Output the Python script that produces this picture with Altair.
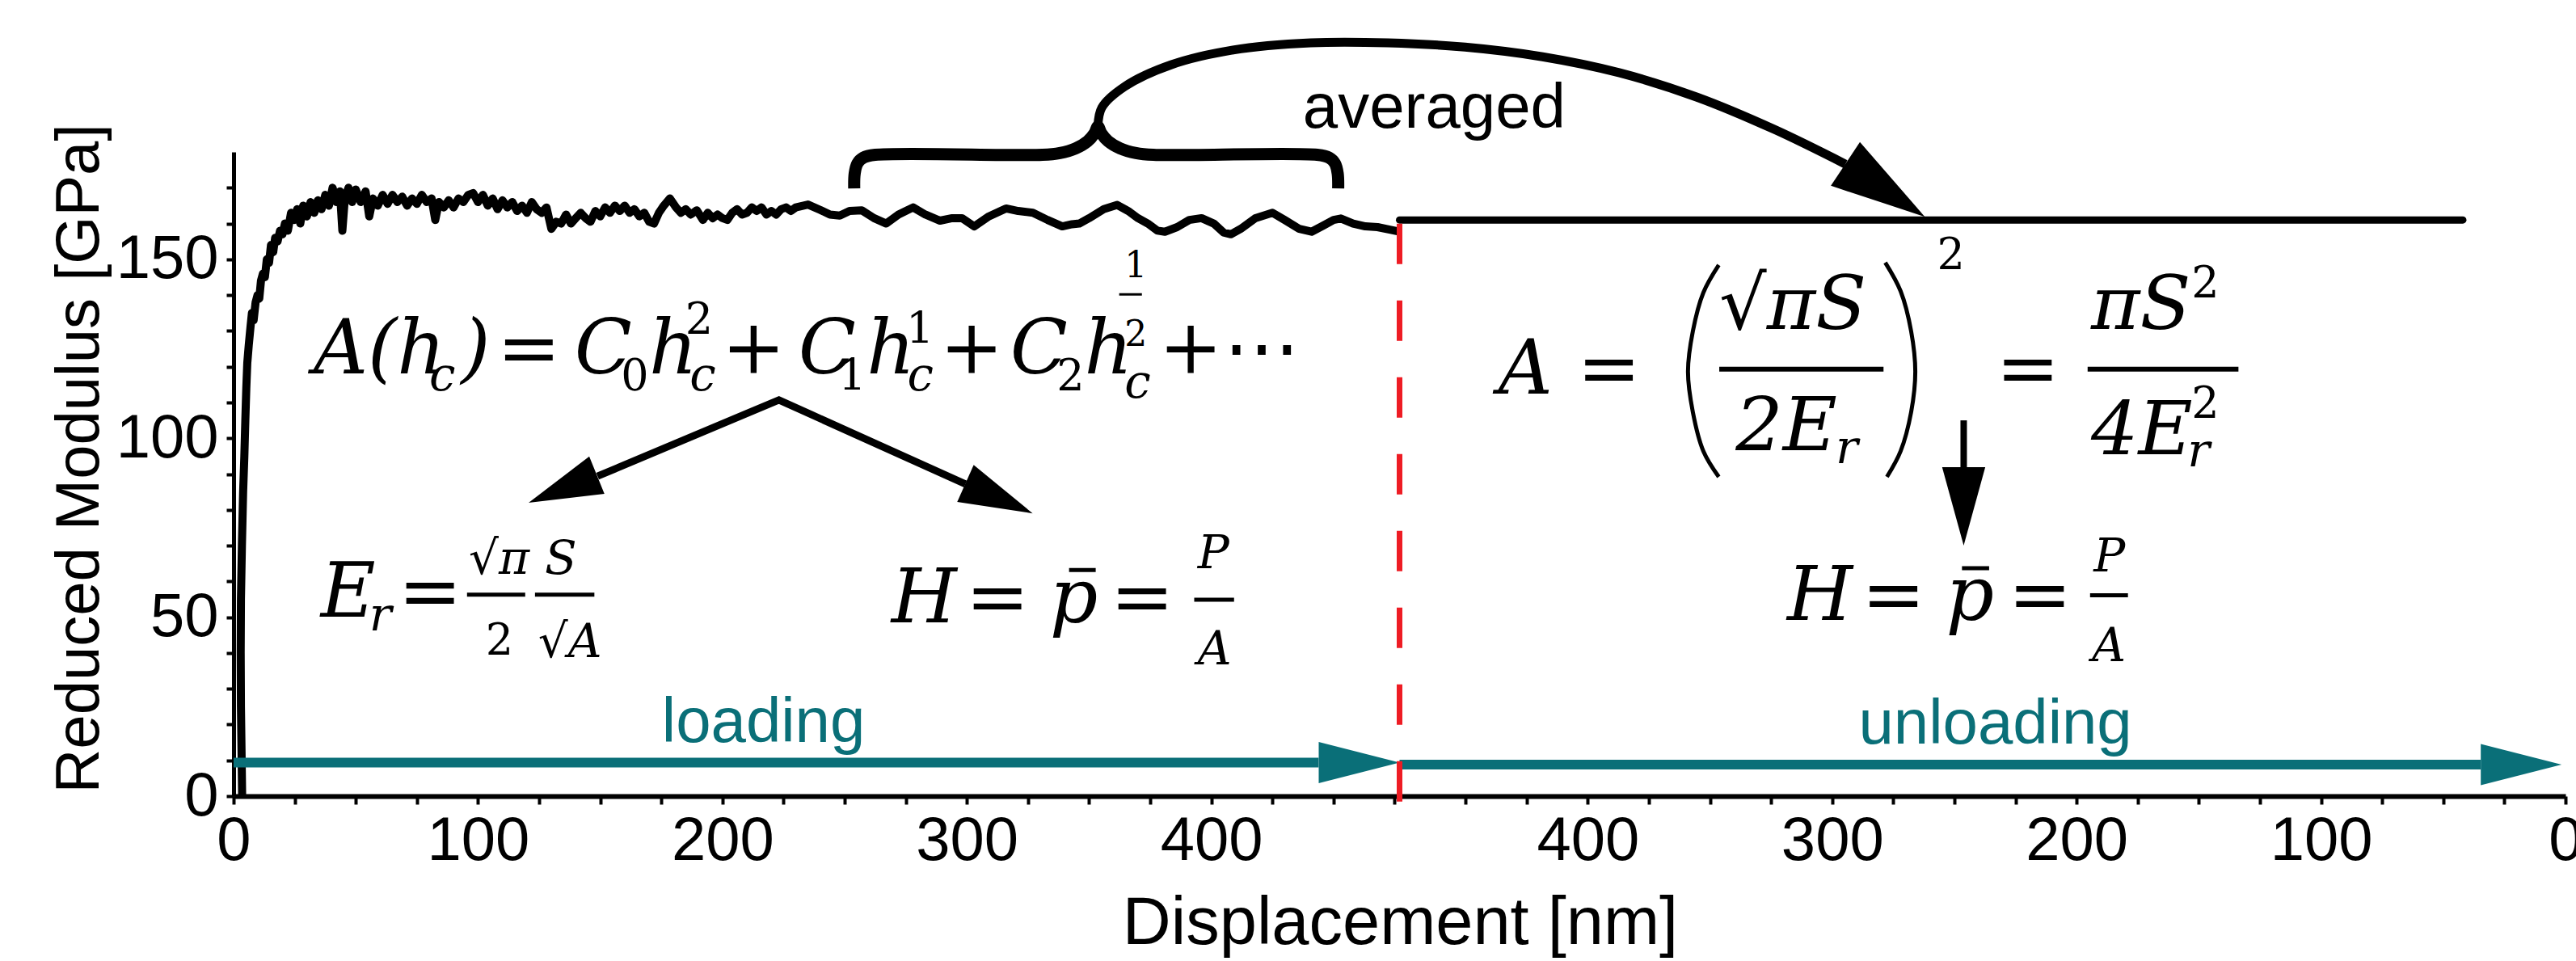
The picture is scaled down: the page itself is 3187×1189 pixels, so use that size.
import altair as alt
import pandas as pd

# ---------------- data ----------------
MAX_DEPTH = 477                 # nm, turning point loading -> unloading
PATH_END = 2 * MAX_DEPTH        # x runs 0..477 (loading) then back 477..0 (unloading)

disp_load = [3.5, 3.3, 3.0, 2.9, 3.0, 3.4, 3.9, 4.4, 4.8, 5.2, 5.6, 6.2, 6.9, 7.5, 8.2, 9.0, 9.8, 10.5,
             11.2, 12.0, 12.8, 13.6, 14.5, 15.3, 16.2, 17.0, 18.0, 19.0, 20.0, 21.0, 22.2, 23.5, 24.8,
             26.0, 27.3, 28.5, 30.0, 31.5, 33.0, 34.5, 36.0, 37.5, 39.0, 40.5, 42.0, 43.5, 44.5, 45.5,
             47.0, 48.5, 50.0, 52.0, 54.0, 55.5, 57.0, 59.0, 61.0, 63.0, 65.0, 67.0, 69.0, 71.0, 73.0,
             75.0, 77.0, 79.0, 81.0, 82.5, 84.0, 86.0, 88.0, 90.0, 92.0, 94.0, 96.0, 98.0, 100.0,
             102.0, 104.0, 106.0, 108.0, 110.0, 112.0, 114.0, 116.0, 118.0, 120.0, 122.0, 124.0, 126.0,
             128.0, 130.0, 132.0, 134.0, 136.0, 138.0, 140.0, 142.0, 144.0, 146.0, 148.0, 150.0, 152.0,
             154.0, 156.0, 158.0, 160.0, 162.0, 164.0, 166.0, 168.0, 170.0, 172.0, 174.0, 176.0, 178.5,
             181.0, 183.0, 185.0, 187.0, 189.5, 192.0, 194.0, 196.0, 198.0, 200.0, 202.0, 204.0, 206.0,
             208.0, 210.0, 212.0, 214.0, 216.0, 218.0, 220.0, 222.0, 224.0, 226.0, 228.0, 230.0, 235.0,
             240.0, 244.0, 248.0, 252.0, 257.0, 262.0, 267.0, 272.0, 278.0, 283.0, 289.0, 294.0, 298.0,
             303.0, 309.0, 316.0, 321.0, 327.0, 333.0, 339.0, 343.0, 346.0, 350.0, 356.0, 361.5, 366.0,
             370.0, 374.0, 378.0, 381.0, 386.0, 391.0, 396.0, 401.0, 405.0, 408.0, 412.0, 418.0, 425.0,
             430.0, 436.0, 441.0, 446.0, 450.0, 453.0, 458.0, 463.0, 468.0, 473.0, 477.0]
mod_load = [0, 10, 25, 40, 55, 70, 85, 95, 105, 114, 121, 126, 131, 135, 133, 138, 140, 139,
            144, 146, 145, 150, 149, 154, 152, 156, 155, 158, 157, 160, 158, 163, 161,
            164, 160, 165, 162, 166, 163, 166.5, 164, 168, 165, 170, 166, 169, 158, 167,
            170, 166, 169.5, 166, 169, 162, 167, 165, 168, 165.5, 168, 166, 167.5, 165, 167,
            165.5, 168, 166, 167, 161, 166, 164.5, 166.5, 164.5, 167, 166, 168, 168.5, 166,
            168, 165, 167, 164, 166.5, 164.5, 166, 163.5, 165, 163, 166, 164, 163,
            164.5, 158.5, 160.5, 160, 162.5, 160, 161.5, 163, 161.5, 160.5, 163.5, 162, 164.5,
            163, 165, 163.5, 165, 163, 164, 162, 163, 160.5, 160, 163, 165, 167,
            164.5, 163, 164, 162.5, 163.7, 161, 163, 161.5, 162.5, 161.5, 161, 163, 164,
            162.5, 163, 164.5, 163.5, 164.5, 162.5, 163.5, 162.5, 164, 164.5, 163.5, 164.5, 165.3,
            163.8, 162.5, 162.2, 163.5, 163.7, 161.5, 160, 162.5, 164.5, 162.5, 160.8, 161.5, 161.5,
            159.2, 162, 164.2, 163.5, 163, 161, 159.2, 159.8, 160, 161.5, 164, 165.2, 163.5,
            161.5, 160, 158, 157.7, 159, 161, 161.5, 160, 157.5, 157, 158.5, 161.5, 163,
            161, 158.5, 157.7, 159.5, 161, 161.4, 160, 159.2, 159, 158.3, 157.7]

# averaged modulus used for the unloading part (unloading displacement, nm)
unload_disp = [477, 42]
unload_mod = [161, 161]

x_major_load = [0, 100, 200, 300, 400]
x_major_unload = [400, 300, 200, 100, 0]
x_minor_load = [v for v in range(25, 476, 25) if v % 100]
x_minor_unload = [v for v in range(25, 451, 25) if v % 100]
y_major = [0, 50, 100, 150]
y_minor = [v for v in range(10, 171, 10) if v % 50]

TEAL = "#0a6f78"
RED = "#ee1c24"
SANS = "Liberation Sans"
SERIF = "DejaVu Serif"

# ---------------- scales / axes ----------------
xs = alt.Scale(domain=[0, PATH_END], nice=False, zero=False)
ys = alt.Scale(domain=[0, 180], nice=False, zero=False)

x_ticks = x_major_load + [PATH_END - v for v in x_major_unload] + \
    x_minor_load + [PATH_END - v for v in x_minor_unload]
y_ticks = y_major + y_minor

x_label_expr = ("((datum.value <= 477 ? datum.value : 954 - datum.value) % 100 == 0) ? "
                "format(datum.value <= 477 ? datum.value : 954 - datum.value, 'd') : ''")

x_axis = alt.Axis(
    values=x_ticks, orient="bottom", grid=False, labelExpr=x_label_expr,
    tickSize=10, tickWidth=4, tickColor="black", domainColor="black", domainWidth=6,
    labelFont=SANS, labelFontSize=76, labelColor="black", labelPadding=8,
    labelFlush=False, labelOverlap=False,
    title="Displacement [nm]", titleFont=SANS, titleFontSize=83, titleFontWeight="normal",
    titleColor="black", titleX=1443, titleY=182, titleBaseline="alphabetic", titleAlign="center",
)
y_axis = alt.Axis(
    values=y_ticks, orient="left", grid=False,
    labelExpr="datum.value % 50 == 0 ? format(datum.value, 'd') : ''",
    tickSize=9, tickWidth=4, tickColor="black", domainColor="black", domainWidth=5,
    labelFont=SANS, labelFontSize=76, labelColor="black", labelPadding=10,
    labelOverlap=False,
    title="Reduced Modulus [GPa]", titleFont=SANS, titleFontSize=76, titleFontWeight="normal",
    titleColor="black", titleX=-168, titleY=379, titleAngle=270, titleBaseline="alphabetic",
    titleAlign="center",
)


def ex(f="x"):
    return alt.X(f, type="quantitative", scale=xs, axis=x_axis)


def ey(f="y"):
    return alt.Y(f, type="quantitative", scale=ys, axis=y_axis)


# ---------------- layers ----------------
curve_df = pd.DataFrame({"x": disp_load, "y": mod_load, "i": range(len(disp_load))})
curve = alt.Chart(curve_df).mark_line(color="black", strokeWidth=10, strokeJoin="round").encode(
    x=ex(), y=ey(), order="i:Q")

flat_df = pd.DataFrame({"x": [PATH_END - d for d in unload_disp], "y": unload_mod})
flat = alt.Chart(flat_df).mark_line(color="black", strokeWidth=9, strokeCap="round").encode(
    x=ex(), y=ey())

# teal loading / unloading arrows
teal_df = pd.DataFrame({"x": [0, MAX_DEPTH], "x2": [443.9, 919.3], "y": [9.4, 8.8]})
teal_lines = alt.Chart(teal_df).mark_rule(color=TEAL, strokeWidth=12).encode(
    x=ex(), x2="x2:Q", y=ey())
teal_head_df = pd.DataFrame({"x": [MAX_DEPTH, 952.4], "y": [9.4, 8.8]})
teal_heads = alt.Chart(teal_head_df).mark_point(
    shape="M0,0L-2,-0.51L-2,0.51Z", filled=True, fill=TEAL, color=TEAL, strokeWidth=0,
    opacity=1, size=10000).encode(x=ex(), y=ey())

# red dashed separator
red_df = pd.DataFrame({"x": [MAX_DEPTH], "y": [-1.5], "y2": [162.5]})
red_line = alt.Chart(red_df).mark_rule(color=RED, strokeWidth=7, strokeDash=[50, 45]).encode(
    x=ex(), y=ey(), y2="y2:Q")

# black annotation strokes
straight_g, straight_x, straight_y, straight_w = [], [], [], []
curvy_g, curvy_x, curvy_y, curvy_w = [], [], [], []


def add_shape(store, name, xs_, ys_, w):
    g, xx, yy, ww = store
    for a, b in zip(xs_, ys_):
        g.append(name)
        xx.append(a)
        yy.append(b)
        ww.append(w)


S = (straight_g, straight_x, straight_y, straight_w)
C = (curvy_g, curvy_x, curvy_y, curvy_w)
add_shape(S, "fork", [148.9, 223.1, 299.4], [89.4, 110.7, 87.2], 9)
add_shape(S, "down", [707.8, 707.8], [105.0, 91.9], 8)
add_shape(C, "arc", [353.6, 355.2, 364.6, 383.7, 408.9, 440.7, 472.2, 503.8, 535.5, 567.1, 598.7, 630.3, 659.4],
          [187.1, 192.4, 198.3, 204.4, 208.5, 210.5, 210.5, 209.3, 206.6, 202.1, 195.3, 186.3, 176.6], 11)
add_shape(C, "brace", [253.9, 254.1, 255.2, 257.6, 262.5, 330.9, 338.0, 344.5, 349.4, 352.2, 353.6,
                       355.0, 357.8, 362.7, 369.2, 376.3, 443.3, 448.2, 450.6, 451.7, 451.9],
          [169.8, 174.0, 176.8, 178.4, 179.2, 179.2, 179.7, 181.0, 183.0, 185.2, 187.1,
           185.2, 183.0, 181.0, 179.7, 179.2, 179.2, 178.4, 176.8, 174.0, 169.8], 15)
add_shape(C, "lparen", [607.6, 601.3, 597.0, 595.0, 597.0, 601.3, 607.6],
          [148.4, 140.7, 129.9, 118.6, 107.3, 96.4, 89.2], 5)
add_shape(C, "rparen", [675.7, 682.0, 686.3, 688.0, 686.3, 682.0, 676.4],
          [149.1, 141.1, 129.9, 118.6, 107.3, 96.4, 89.2], 5)


def shape_layer(store, interp):
    g, xx, yy, ww = store
    df = pd.DataFrame({"g": g, "x": xx, "y": yy, "w": ww, "i": range(len(g))})
    return alt.Chart(df).mark_line(color="black", strokeJoin="miter", interpolate=interp).encode(
        x=ex(), y=ey(), detail="g:N", order="i:Q",
        strokeWidth=alt.StrokeWidth("w:Q", scale=None))


straight = shape_layer(S, "linear")
curvy = shape_layer(C, "catmull-rom")

heads_df = pd.DataFrame({"x": [120.7, 326.9, 707.8, 691.9], "y": [82.0, 79.0, 70.0, 161.9],
                         "ang": [158, 24, 90, 33.6], "sz": [8281, 8281, 9409, 13924]})
heads = alt.Chart(heads_df).mark_point(
    shape="M0,0L-2,-0.55L-2,0.55Z", filled=True, fill="black", color="black",
    strokeWidth=0, opacity=1).encode(
    x=ex(), y=ey(), angle=alt.Angle("ang:Q", scale=None), size=alt.Size("sz:Q", scale=None))

# fraction bars and over-bars
bars_df = pd.DataFrame({
    "x": [95.5, 123.3, 393.0, 341.8, 362.3, 607.8, 758.5, 707.1, 759.5],
    "x2": [119.3, 147.6, 409.3, 352.7, 371.6, 675.0, 820.2, 718.2, 775.0],
    "y": [56.3, 56.3, 54.9, 63.2, 140.2, 119.3, 119.3, 63.7, 56.1],
    "w": [5, 5, 5, 5, 3, 6, 6, 5, 5]})
bars = alt.Chart(bars_df).mark_rule(color="black").encode(
    x=ex(), x2="x2:Q", y=ey(), strokeWidth=alt.StrokeWidth("w:Q", scale=None))


def text_layer(t, x, y, size, italic, font=SERIF, color="black"):
    df = pd.DataFrame({"t": t, "x": x, "y": y})
    kw = dict(align="left", baseline="alphabetic", font=font, fontSize=size, color=color)
    if italic:
        kw["fontStyle"] = "italic"
    return alt.Chart(df).mark_text(**kw).encode(x=ex(), y=ey(), text="t:N")


big_it = text_layer(
    ["A(h", ")", "C", "h", "C", "h", "C", "h", "E", "H", "p", "A", "H", "p"],
    [32.7, 93.0, 139.5, 170.0, 231.1, 259.0, 317.7, 348.0, 35.6, 269.1, 333.9, 517.4, 635.6, 700.5],
    [118.1, 118.1, 118.1, 118.1, 118.1, 118.1, 118.1, 118.1, 50.1, 48.6, 48.6, 112.5, 49.3, 49.3],
    93, True)
big_up = text_layer(
    ["=", "+", "+", "+", "⋯", "=", "=", "=", "=", "=", "=", "="],
    [107.8, 199.7, 288.9, 378.5, 405.0, 67.4, 299.5, 358.7, 549.7, 721.0, 666.1, 726.0],
    [118.1, 118.1, 118.1, 118.1, 118.1, 50.1, 48.6, 48.6, 112.5, 112.5, 49.3, 49.3],
    94, False)
mid_it = text_layer(["√πS", "2E", "πS", "4E"], [607.8, 614.5, 759.9, 759.9],
                    [130.6, 96.7, 130.6, 95.6], 92, True)
small_it = text_layer(
    ["c", "c", "c", "c", "r", "r", "r", "√π", "S", "√A", "P", "A", "P", "A"],
    [80.0, 186.6, 275.6, 364.5, 55.5, 655.4, 799.3, 96.2, 127.3, 124.6, 394.4, 394.4, 761.0, 760.3],
    [113.3, 113.3, 113.3, 111.3, 46.3, 93.0, 92.2, 62.1, 62.1, 38.8, 63.7, 36.9, 62.8, 37.7],
    58, True)
small_up = text_layer(
    ["0", "1", "2", "2", "1", "2", "2", "2", "2"],
    [158.5, 247.4, 336.7, 184.8, 275.1, 103.1, 696.9, 801.0, 801.0],
    [113.3, 113.3, 113.3, 129.2, 126.5, 39.5, 147.2, 139.3, 105.8],
    54, False)
tiny_up = text_layer(["1", "2"], [364.5, 364.5], [145.0, 125.8], 44, False)

averaged = text_layer(["averaged"], [437.4], [186.8], 78, False, font=SANS)
phase = text_layer(["loading", "unloading"], [175.2, 664.8], [15.1, 14.7], 78, False,
                   font=SANS, color=TEAL)

chart = alt.layer(
    curve, flat, teal_lines, teal_heads, red_line, straight, curvy, heads, bars,
    big_it, big_up, mid_it, small_it, small_up, tiny_up, averaged, phase,
).properties(
    width=2885, height=797,
    padding={"left": 289, "top": 188, "right": 13, "bottom": 204},
    autosize=alt.AutoSizeParams(type="none"),
    background="white",
).configure_view(stroke=None)

chart.save("out.html", embed_options={"renderer": "svg", "actions": False})
